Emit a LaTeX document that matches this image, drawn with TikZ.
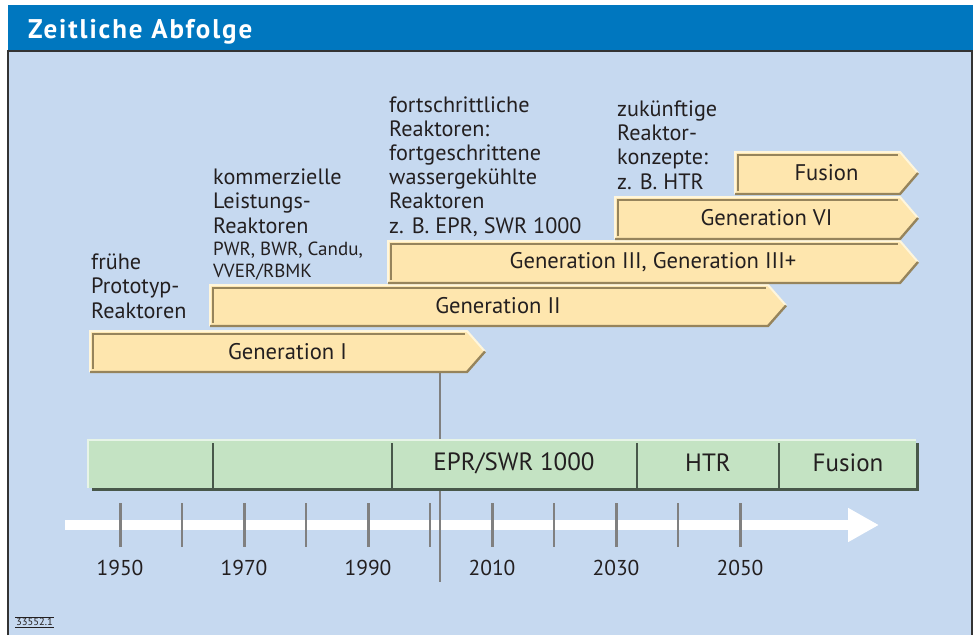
\documentclass[tikz,border=0pt]{standalone}
\usepackage{fontspec}
\setmainfont{PT Sans}
\usetikzlibrary{arrows.meta}

\definecolor{titleblue}{RGB}{0,119,191}
\definecolor{paneblue}{RGB}{198,217,240}
\definecolor{genyellow}{RGB}{254,230,174}
\definecolor{genlight}{RGB}{255,246,220}
\definecolor{gendark}{RGB}{150,132,92}
\definecolor{bandgreen}{RGB}{196,227,195}
\definecolor{banddark}{RGB}{72,88,74}
\definecolor{tickgray}{RGB}{128,128,128}
\definecolor{inkgray}{RGB}{35,31,32}

\tikzset{
  note/.style={anchor=base west, align=left, text=inkgray, inner sep=0pt,
    font=\fontsize{22.2}{24.2}\selectfont},
  smallnote/.style={note, font=\fontsize{19}{22}\selectfont},
  genlabel/.style={text=inkgray, font=\fontsize{22.6}{24}\selectfont},
  bandlabel/.style={text=inkgray, font=\fontsize{25}{28}\selectfont},
  yearlabel/.style={text=inkgray, font=\fontsize{21.5}{24}\selectfont},
}

\begin{document}
\begin{tikzpicture}[x=1pt,y=-1pt]
\useasboundingbox (0,0) rectangle (975,635);

% Frame and title bar
\fill[titleblue] (8,5) rectangle (973,51);
\fill[paneblue] (8,51) rectangle (972,635);
\draw[black!80, line width=1.2pt] (8,635) -- (8,51) -- (972,51) -- (972,635);
\node[anchor=base west, inner sep=0pt, white,
  font=\bfseries\fontsize{27}{30}\selectfont\addfontfeature{LetterSpace=7}] (title) at (28,38) {Zeitliche Abfolge};

% Descriptions above the generations (anchored at their last line)
\node[note] (early) at (91,318) {frühe\\Prototyp-\\Reaktoren};
\node[note] (commercial) at (213,233) {kommerzielle\\Leistungs-\\Reaktoren};
\node[smallnote] (types) at (213,277) {PWR, BWR, Candu,\\VVER/RBMK};
\node[note] (advanced) at (389,233) {fortschrittliche\\Reaktoren:\\fortgeschrittene\\wassergekühlte\\Reaktoren\\z. B. EPR, SWR 1000};
\node[note] (future) at (617,189) {zukünftige\\Reaktor-\\konzepte:\\z. B. HTR};

% Timeline arrow with ticks
\coordinate (tstart) at (65,525);
\coordinate (tend) at (879,525);
\draw[white, line width=10pt, -{Triangle[length=31pt, width=32pt]}] (tstart) -- (tend);
\foreach \yr in {1960,1980,...,2040}
  \draw[tickgray, line width=1.4pt] ({120+(\yr-1950)*6.2},503) -- ({120+(\yr-1950)*6.2},547);
\foreach \yr in {1950,1970,...,2050} {
  \draw[tickgray, line width=3pt] ({120+(\yr-1950)*6.2},503) -- ({120+(\yr-1950)*6.2},547);
  \node[yearlabel] (y\yr) at ({120+(\yr-1950)*6.2},568) {\yr};
}

% Today marker
\coordinate (genIbase) at (440,372);
\coordinate (today) at (440,582);
\draw[tickgray, line width=1.2pt] (genIbase) -- (today);

% Reactor band
\fill[banddark] (92,443) rectangle (919,491);
\fill[bandgreen] (88,440) rectangle (916,488);
\draw[white!60!bandgreen, line width=1.5pt] (88,488) -- (88,440) -- (916,440);
\foreach \x in {213,392,637,779}
  \draw[banddark, line width=2pt] (\x,443) -- (\x,488);
\node[bandlabel] (epr) at (514,463) {EPR/SWR 1000};
\node[bandlabel] (htr) at (708,463) {HTR};
\node[bandlabel] (fusionband) at (848,463) {Fusion};

% Generation arrows
\foreach \xa/\xb/\yt/\yb/\txt/\nm in {
    90/467/331/372/{Generation I}/genI,
    210/768/285/326/{Generation II}/genII,
    388/900/241/283/{Generation III, Generation III+}/genIII,
    615/900/197/239/{Generation VI}/genVI,
    735/900/152/194/{Fusion}/fusion} {
  \fill[genyellow] (\xa,\yt) -- (\xb,\yt) -- (\xb+18,{(\yt+\yb)/2}) -- (\xb,\yb) -- (\xa,\yb) -- cycle;
  \draw[genlight, line width=2pt] (\xa,\yb) -- (\xa,\yt) -- (\xb,\yt) -- (\xb+18,{(\yt+\yb)/2});
  \draw[gendark, line width=2.4pt] (\xb+18,{(\yt+\yb)/2}) -- (\xb,\yb) -- (\xa,\yb);
  \draw[gendark, line width=1.2pt] (\xa+3,\yb-3) -- (\xa+3,\yt+3) -- (\xb-2,\yt+3);
  \node[genlabel] (\nm) at ({(\xa+\xb+18)/2},{(\yt+\yb)/2}) {\txt};
}

% Figure number
\node[anchor=west, inner sep=1pt, text=inkgray, font=\fontsize{10.5}{12}\selectfont] (fignum) at (15,622) {33552.1};
\draw[inkgray, line width=0.6pt] (fignum.north west) -- (fignum.north east);
\draw[inkgray, line width=0.6pt] (fignum.south west) -- (fignum.south east);

\end{tikzpicture}
\end{document}
